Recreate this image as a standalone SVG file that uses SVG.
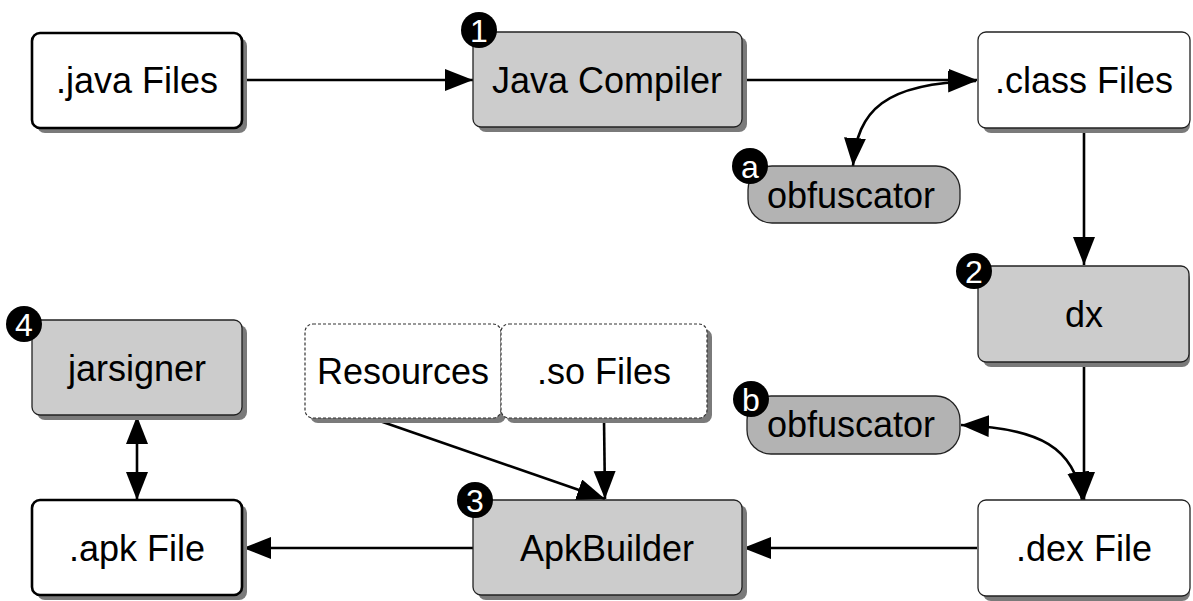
<svg xmlns="http://www.w3.org/2000/svg" width="1193" height="601" viewBox="0 0 1193 601">
<style>
.shadow{fill:#7a7a7a;stroke:none}
.thick{fill:#fff;stroke:#000;stroke-width:2.6}
.white{fill:#fff;stroke:#222;stroke-width:1.3}
.gray{fill:#cccccc;stroke:#222;stroke-width:1.3}
.pill{fill:#b3b3b3;stroke:#222;stroke-width:1.3}
.dashed{fill:#fff;stroke:#333;stroke-width:1.2;stroke-dasharray:3,2}
text{font-family:"Liberation Sans",Arial,sans-serif;font-size:36px;text-anchor:middle;fill:#000}
.badge circle{fill:#000}
.badge text{fill:#fff;font-size:32px}
.conn{fill:none;stroke:#000;stroke-width:2.6}
</style>
<defs>
<marker id="ah" markerUnits="userSpaceOnUse" markerWidth="30" markerHeight="24" refX="28" refY="11" orient="auto-start-reverse">
<path d="M0,0 L28,11 L0,22 z" fill="#000"/>
</marker>
</defs>

<g id="connectors">
<line class="conn" x1="242" y1="80" x2="473" y2="80" marker-end="url(#ah)"/>
<line class="conn" x1="742" y1="80" x2="977" y2="80" marker-end="url(#ah)"/>
<path class="conn" d="M976,81 C885,83 857,110 853,166" marker-start="url(#ah)" marker-end="url(#ah)"/>
<line class="conn" x1="1084" y1="128" x2="1084" y2="265" marker-end="url(#ah)"/>
<line class="conn" x1="1084" y1="362" x2="1084" y2="500" marker-end="url(#ah)"/>
<path class="conn" d="M961,425 C1040,428 1075,448 1082,500" marker-start="url(#ah)" marker-end="url(#ah)"/>
<line class="conn" x1="977" y1="548" x2="743" y2="548" marker-end="url(#ah)"/>
<line class="conn" x1="473" y1="548" x2="243" y2="548" marker-end="url(#ah)"/>
<line class="conn" x1="137" y1="416" x2="137" y2="500" marker-start="url(#ah)" marker-end="url(#ah)"/>
<line class="conn" x1="374" y1="419" x2="605" y2="499" marker-end="url(#ah)"/>
<line class="conn" x1="604" y1="419" x2="605" y2="499" marker-end="url(#ah)"/>
</g>

<g id="java-files">
<rect class="shadow" x="37" y="38" width="210" height="95" rx="8"/>
<rect class="thick" x="32" y="33" width="210" height="95" rx="8"/>
<text x="137" y="93">.java Files</text>
</g>

<g id="java-compiler">
<rect class="shadow" x="478" y="37" width="269" height="95" rx="8"/>
<rect class="gray" x="473" y="32" width="269" height="95" rx="8"/>
<text x="607" y="93">Java Compiler</text>
<g class="badge"><circle cx="479" cy="30" r="18"/><text x="479" y="42">1</text></g>
</g>

<g id="class-files">
<rect class="shadow" x="983" y="37" width="207" height="96" rx="8"/>
<rect class="white" x="978" y="32" width="212" height="96" rx="8"/>
<text x="1084" y="93">.class Files</text>
</g>

<g id="obfuscator-a">
<rect class="pill" x="748" y="166" width="212" height="57" rx="24"/>
<text x="851" y="208">obfuscator</text>
<g class="badge"><circle cx="750" cy="166" r="18"/><text x="750" y="178">a</text></g>
</g>

<g id="dx">
<rect class="shadow" x="983" y="271" width="207" height="96" rx="8"/>
<rect class="gray" x="978" y="266" width="211" height="96" rx="8"/>
<text x="1084" y="327">dx</text>
<g class="badge"><circle cx="974" cy="271" r="18"/><text x="974" y="283">2</text></g>
</g>

<g id="obfuscator-b">
<rect class="pill" x="747" y="396" width="213" height="58" rx="24"/>
<text x="851" y="437">obfuscator</text>
<g class="badge"><circle cx="751" cy="399" r="18"/><text x="751" y="411">b</text></g>
</g>

<g id="dex-file">
<rect class="shadow" x="983" y="505" width="207" height="96" rx="8"/>
<rect class="white" x="978" y="500" width="212" height="96" rx="8"/>
<text x="1084" y="561">.dex File</text>
</g>

<g id="apkbuilder">
<rect class="shadow" x="478" y="505" width="269" height="95" rx="8"/>
<rect class="gray" x="473" y="500" width="269" height="95" rx="8"/>
<text x="607" y="561">ApkBuilder</text>
<g class="badge"><circle cx="475" cy="500" r="18"/><text x="475" y="512">3</text></g>
</g>

<g id="apk-file">
<rect class="shadow" x="37" y="505" width="210" height="95" rx="8"/>
<rect class="thick" x="32" y="500" width="210" height="95" rx="8"/>
<text x="137" y="561">.apk File</text>
</g>

<g id="jarsigner">
<rect class="shadow" x="37" y="325" width="210" height="95" rx="8"/>
<rect class="gray" x="32" y="320" width="210" height="95" rx="8"/>
<text x="137" y="381">jarsigner</text>
<g class="badge"><circle cx="24" cy="324" r="18"/><text x="24" y="336">4</text></g>
</g>

<g id="resources">
<rect class="shadow" x="310" y="329" width="196" height="94" rx="8"/>
<rect class="dashed" x="305" y="324" width="196" height="94" rx="8"/>
<text x="403" y="384">Resources</text>
</g>

<g id="so-files">
<rect class="shadow" x="506" y="329" width="206" height="94" rx="8"/>
<rect class="dashed" x="501" y="324" width="206" height="94" rx="8"/>
<text x="604" y="384">.so Files</text>
</g>
</svg>
